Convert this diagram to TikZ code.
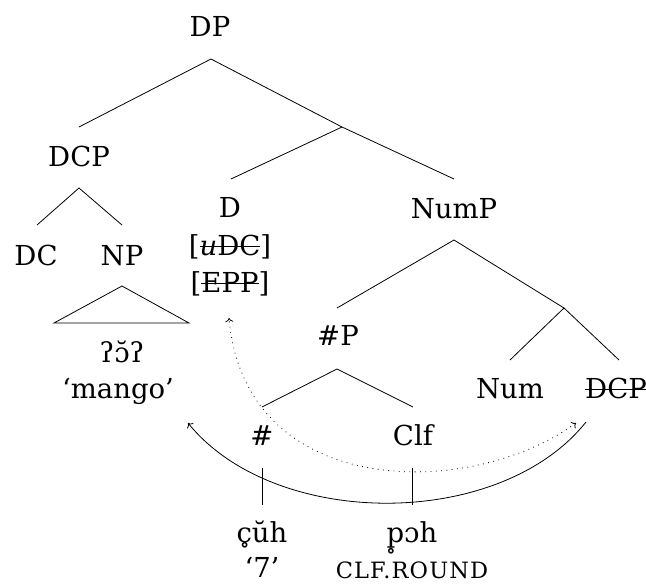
\documentclass[tikz,border=0pt]{standalone}
\usepackage{fontspec}
\setmainfont{DejaVu Serif}
\newfontfamily\glossfont[LetterSpace=5]{DejaVu Serif}
\usetikzlibrary{arrows.meta}
\newsavebox\strkbox
\newcommand{\strk}[1]{\sbox\strkbox{#1}\rlap{\rule[0.29em]{\wd\strkbox}{0.7pt}}\usebox\strkbox}
\tikzset{
  lbl/.style={anchor=base, inner sep=0pt, font=\fontsize{27.5}{33}\selectfont},
  gls/.style={anchor=base, inner sep=0pt, font=\fontsize{22.5}{26}\glossfont},
  br/.style={line width=0.8pt},
  mv/.style={line width=0.8pt, -{To[length=4pt,width=8pt]}},
  agr/.style={line width=0.8pt, dash pattern=on 0.8pt off 4.5pt, {To[length=4pt,width=8pt]}-{To[length=4pt,width=8pt]}},
}

\begin{document}
\begin{tikzpicture}[x=1pt,y=-1pt]
  \useasboundingbox (0,0) rectangle (646,584);
  % top of the tree
  \node[lbl] (dp) at (210,36) {DP};
  \coordinate (dpB) at (211,59);
  \coordinate (dcpT) at (79,127);
  \coordinate (dbar) at (342,127);
  \coordinate (dT) at (231,179);
  \coordinate (numpT) at (454,179);
  \draw[br] (dcpT) -- (dpB) -- (dbar) -- (numpT);
  \draw[br] (dbar) -- (dT);

  % DCP and its daughters
  \node[lbl] (dcp) at (79,166) {DCP};
  \coordinate (dcpB) at (79,188);
  \coordinate (dcT) at (37,225);
  \coordinate (npT) at (122,225);
  \draw[br] (dcT) -- (dcpB) -- (npT);
  \node[lbl] (dc) at (36,265) {DC};
  \node[lbl] (np) at (122,265) {NP};
  \coordinate (npB) at (122,286);
  \coordinate (triL) at (54,323);
  \coordinate (triR) at (189,323);
  \draw[br] (npB) -- (triL) -- (triR) -- cycle;
  \node[lbl] (oov) at (122,362) {ʔɔ̆ʔ};
  \node[lbl] (mango) at (118,398) {‘mango’};

  % D head
  \node[lbl] (d) at (230,217) {D};
  \node[lbl] (dfA) at (230,255) {[\strk{\textit{u}DC}]};
  \node[lbl] (dfB) at (230,292) {[\strk{EPP}]};

  % NumP
  \node[lbl] (nump) at (454,218) {NumP};
  \coordinate (numpB) at (454,240);
  \coordinate (hpT) at (337,308);
  \coordinate (numbar) at (564,308);
  \draw[br] (hpT) -- (numpB) -- (numbar);
  \coordinate (numT) at (510,360);
  \coordinate (dcpcT) at (619,360);
  \draw[br] (numT) -- (numbar) -- (dcpcT);
  \node[lbl] (num) at (510,398) {Num};
  \node[lbl] (dcpc) at (616,398) {\strk{DCP}};

  % #P
  \node[lbl] (hp) at (338,345) {\#P};
  \coordinate (hpB) at (337,369);
  \coordinate (hT) at (262,407);
  \coordinate (clfT) at (413,407);
  \draw[br] (hT) -- (hpB) -- (clfT);
  \node[lbl] (h) at (262,445) {\#};
  \node[lbl] (clf) at (413,445) {Clf};
  \coordinate (hB) at (262,468);
  \coordinate (hW) at (262,505);
  \coordinate (clfB) at (412,468);
  \coordinate (clfW) at (412,505);
  \draw[br] (hB) -- (hW);
  \draw[br] (clfB) -- (clfW);
  \node[lbl] (cuh) at (262,542) {c̥ŭh};
  \node[lbl] (cuhgl) at (262,577) {‘7’};
  \node[lbl] (poh) at (412,542) {p̥ɔh};
  \node[gls] (pohgl) at (412,578) {CLF.ROUND};

  % movement and agree
  \coordinate (mvS) at (586,422);
  \coordinate (mvE) at (188,423);
  \draw[mv] (mvS) .. controls (500,530) and (275,530) .. (mvE);
  \coordinate (agS) at (576,423);
  \coordinate (agE) at (229,318);
  \draw[agr] (agS) .. controls (470,500) and (245,500) .. (agE);
\end{tikzpicture}
\end{document}
